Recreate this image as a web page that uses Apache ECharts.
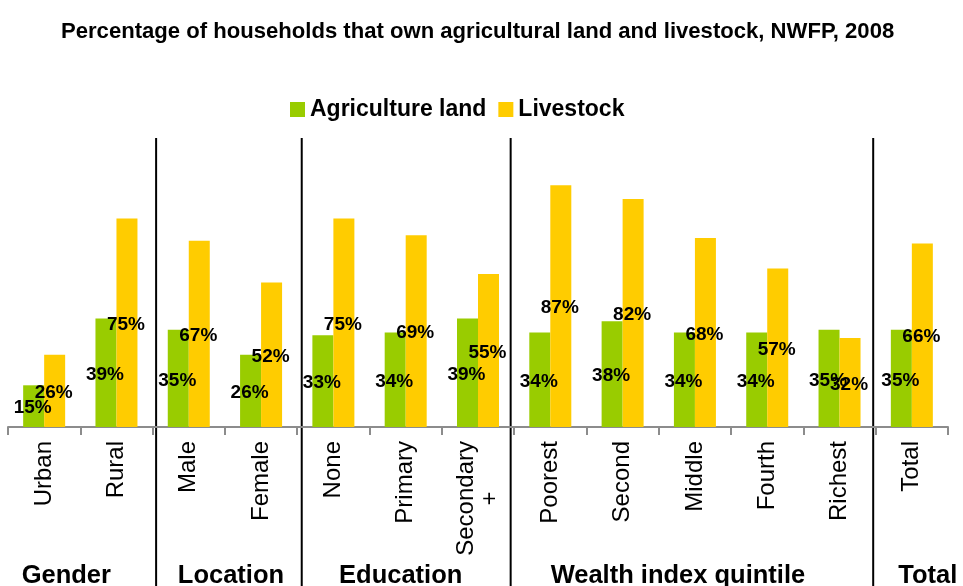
<!DOCTYPE html>
<html>
<head>
<meta charset="utf-8">
<script src="https://cdn.jsdelivr.net/npm/echarts@6/dist/echarts.min.js"></script>
<style>
  html, body { margin: 0; padding: 0; background: #fff; }
  #chart { width: 963px; height: 586px; }
</style>
</head>
<body>
<div id="chart"></div>
<script>
// Household ownership of agricultural land and livestock, NWFP 2008
const categories = ['Urban', 'Rural', 'Male', 'Female', 'None', 'Primary', 'Secondary\n+',
  'Poorest', 'Second', 'Middle', 'Fourth', 'Richest', 'Total'];
const agricultureLand = [15, 39, 35, 26, 33, 34, 39, 34, 38, 34, 34, 35, 35];
const livestock = [26, 75, 67, 52, 75, 69, 55, 87, 82, 68, 57, 32, 66];

// Category groups: name and first/last category index
const groupNames = ['Gender', 'Location', 'Education', 'Wealth index quintile', 'Total'];
const groupFirst = [0, 2, 4, 7, 12];
const groupLast = [1, 3, 6, 11, 12];

// Small horizontal nudges for separators and group captions (px)
const separatorNudge = [3.5, 4.5, -3.5, -2.5];
const captionNudge = [-14, 6, -5, -17, 16];

const FONT = 'Liberation Sans, Arial, sans-serif';
const GREEN = '#99CC00';
const YELLOW = '#FFCC00';

const chart = echarts.init(document.getElementById('chart'), null, { renderer: 'canvas' });

const labelStyle = {
  show: true,
  position: 'inside',
  offset: [-1, 2],
  formatter: '{c}%',
  color: '#000',
  fontFamily: FONT,
  fontWeight: 'bold',
  fontSize: 19,
  textBorderWidth: 0
};

chart.setOption({
  animation: false,
  backgroundColor: '#fff',
  title: {
    text: 'Percentage of households that own agricultural land and livestock, NWFP, 2008',
    left: 56,
    top: 16,
    textStyle: { fontFamily: FONT, fontWeight: 'bold', fontSize: 22.1, color: '#000' }
  },
  legend: {
    top: 93,
    left: 285,
    itemWidth: 15,
    itemHeight: 15,
    itemGap: 12,
    icon: 'rect',
    textStyle: { fontFamily: FONT, fontWeight: 'bold', fontSize: 23, color: '#000' },
    data: ['Agriculture land', 'Livestock']
  },
  grid: { left: 8, right: 15, top: 149, bottom: 159, containLabel: false },
  xAxis: {
    type: 'category',
    data: categories,
    axisLine: { lineStyle: { color: '#8c8c8c', width: 2 } },
    axisTick: { show: true, length: 8, lineStyle: { color: '#8c8c8c', width: 2 } },
    axisLabel: {
      rotate: 90,
      interval: 0,
      margin: 14,
      fontFamily: FONT,
      fontSize: 24,
      color: '#000',
      formatter: function (v) {
        const parts = v.split('\n');
        return parts.map(function (p, i) { return i === 0 ? p : '{c|' + p + '}'; }).join('\n');
      },
      rich: { c: { align: 'center', fontFamily: FONT, fontSize: 24, color: '#000' } }
    }
  },
  yAxis: {
    type: 'value',
    min: 0,
    max: 100,
    show: false,
    splitLine: { show: false }
  },
  series: [
    {
      name: 'Agriculture land',
      type: 'bar',
      data: agricultureLand,
      barWidth: 21,
      barGap: '0%',
      itemStyle: { color: GREEN },
      label: labelStyle
    },
    {
      name: 'Livestock',
      type: 'bar',
      data: livestock,
      barWidth: 21,
      barGap: '0%',
      itemStyle: { color: YELLOW },
      label: labelStyle
    }
  ]
});

// Group separators and captions, placed from the category axis scale
function drawGroups() {
  const px = function (i) { return chart.convertToPixel({ xAxisIndex: 0 }, i); };
  const step = px(1) - px(0);
  const axisY = chart.convertToPixel({ yAxisIndex: 0 }, 0);
  const elements = [];
  for (let g = 0; g < groupNames.length; g++) {
    if (g > 0) {
      const bx = px(groupFirst[g]) - step / 2 + separatorNudge[g - 1];
      elements.push({
        type: 'line',
        shape: { x1: bx, y1: 138, x2: bx, y2: 586 },
        style: { stroke: '#000', lineWidth: 2 },
        silent: true
      });
    }
    const cx = (px(groupFirst[g]) + px(groupLast[g])) / 2 + captionNudge[g];
    elements.push({
      type: 'text',
      x: cx,
      y: axisY + 149,
      style: {
        text: groupNames[g],
        fontFamily: FONT,
        fontWeight: 'bold',
        fontSize: 25.5,
        fill: '#000',
        align: 'center',
        verticalAlign: 'middle'
      },
      silent: true
    });
  }
  chart.setOption({ graphic: { elements: elements } });
}
drawGroups();
</script>
</body>
</html>
